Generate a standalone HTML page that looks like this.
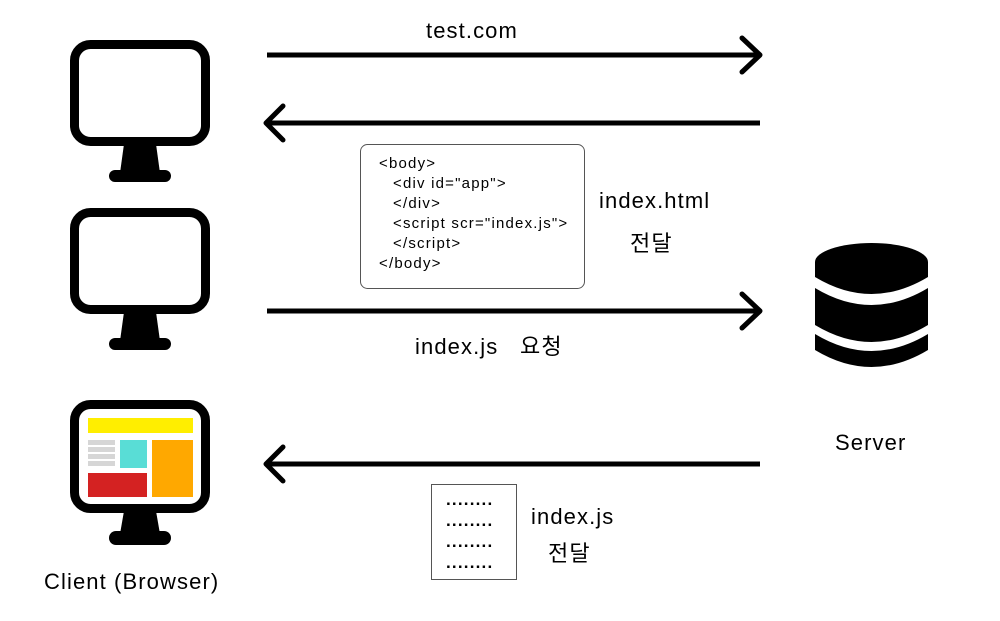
<!DOCTYPE html>
<html><head><meta charset="utf-8"><style>
html,body{margin:0;padding:0;background:#fff;}
svg{display:block;}
text{font-family:"Liberation Sans","Noto Sans CJK KR",sans-serif;fill:#000;}
</style></head><body>
<svg width="1000" height="621" viewBox="0 0 1000 621" xmlns="http://www.w3.org/2000/svg">
<defs>
<g id="mon">
  <rect x="74.5" y="4.5" width="131" height="97" rx="16" fill="#fff" stroke="#000" stroke-width="9"/>
  <path d="M124 104 L156 104 L160 133 L120 133 Z" fill="#000"/>
  <rect x="109" y="130" width="62" height="12" rx="6" fill="#000"/>
</g>
</defs>
<use href="#mon" y="40"/>
<use href="#mon" y="208"/>
<g transform="translate(0,400)">
  <rect x="74.5" y="4.5" width="131" height="104" rx="16" fill="#fff" stroke="#000" stroke-width="9"/>
  <path d="M124 111 L156 111 L160 134 L120 134 Z" fill="#000"/>
  <rect x="109" y="131" width="62" height="14" rx="7" fill="#000"/>
</g>
<rect x="88" y="418" width="105" height="15" fill="#ffee00"/>
<rect x="88" y="440" width="27" height="5" fill="#d6d6d6"/>
<rect x="88" y="447" width="27" height="5" fill="#d6d6d6"/>
<rect x="88" y="454" width="27" height="5" fill="#d6d6d6"/>
<rect x="88" y="461" width="27" height="5" fill="#d6d6d6"/>
<rect x="120" y="440" width="27" height="28" fill="#59ddd6"/>
<rect x="152" y="440" width="41" height="57" fill="#ffa800"/>
<rect x="88" y="473" width="59" height="24" fill="#d42222"/>

<!-- database -->
<g fill="#000">
  <ellipse cx="871.5" cy="262" rx="56.5" ry="19"/>
  <path d="M815 262 L928 262 L928 277 Q871.5 311 815 277 Z"/>
  <path d="M815 288 Q871.5 322 928 288 L928 325 Q871.5 359 815 325 Z"/>
  <path d="M815 334 Q871.5 368 928 334 L928 350 Q871.5 384 815 350 Z"/>
</g>

<!-- arrows -->
<g stroke="#000" stroke-width="5" fill="none" stroke-linecap="round" stroke-linejoin="round">
  <line x1="267" y1="55" x2="759" y2="55" stroke-linecap="butt"/>
  <polyline points="742,38 760,55 742,72"/>
  <line x1="268" y1="123" x2="760" y2="123" stroke-linecap="butt"/>
  <polyline points="283,106 266,123 283,140"/>
  <line x1="267" y1="311" x2="759" y2="311" stroke-linecap="butt"/>
  <polyline points="742,294 760,311 742,328"/>
  <line x1="268" y1="464" x2="760" y2="464" stroke-linecap="butt"/>
  <polyline points="283,447 266,464 283,481"/>
</g>

<rect x="360.5" y="144.5" width="224" height="144" rx="7" fill="#fff" stroke="#555" stroke-width="1"/>
<g font-size="15" letter-spacing="1.2">
<text x="379" y="168">&lt;body&gt;</text>
<text x="393" y="188">&lt;div id="app"&gt;</text>
<text x="393" y="208">&lt;/div&gt;</text>
<text x="393" y="228">&lt;script scr="index.js"&gt;</text>
<text x="393" y="248">&lt;/script&gt;</text>
<text x="379" y="268">&lt;/body&gt;</text>
</g>

<rect x="431.5" y="484.5" width="85" height="95" fill="#fff" stroke="#555" stroke-width="1"/>
<g font-size="17" font-weight="bold" letter-spacing="1.2">
<text x="446" y="505">........</text>
<text x="446" y="526">........</text>
<text x="446" y="547">........</text>
<text x="446" y="568">........</text>
</g>

<g font-size="22" letter-spacing="1.1">
<text x="426" y="38">test.com</text>
<text x="599" y="208">index.html</text>
<text x="630" y="251">전달</text>
<text x="415" y="354">index.js&#160;&#160; 요청</text>
<text x="835" y="450">Server</text>
<text x="531" y="524">index.js</text>
<text x="548" y="561">전달</text>
<text x="44" y="589">Client (Browser)</text>
</g>
</svg>
</body></html>
